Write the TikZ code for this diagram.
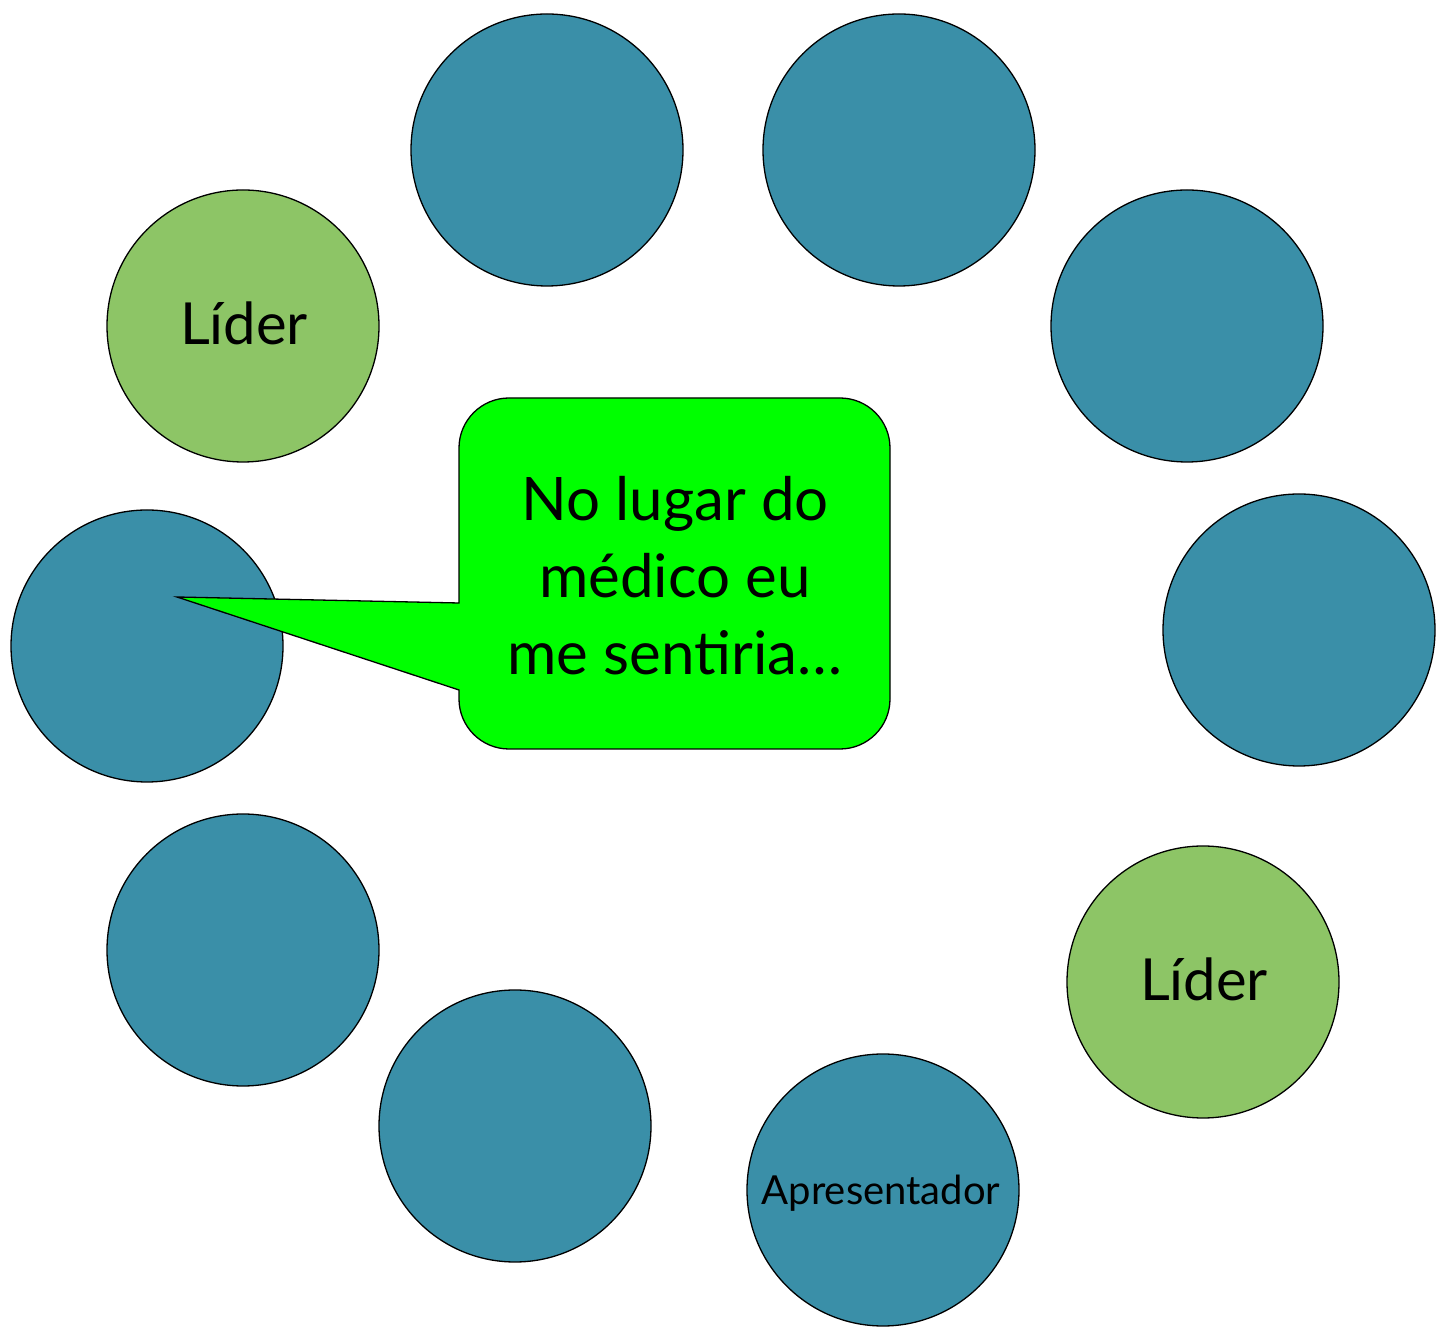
\documentclass[tikz,border=0pt]{standalone}
\usepackage{fontspec}
\setmainfont{Lato}
\definecolor{teal1}{RGB}{58,143,168}
\definecolor{lgreen}{RGB}{141,197,102}
\definecolor{callg}{RGB}{0,255,0}
\begin{document}
\begin{tikzpicture}[x=1pt,y=1pt,
  seat/.style={circle,draw=black,line width=1.3pt,fill=teal1,minimum size=272pt,inner sep=0pt},
  leader/.style={seat,fill=lgreen},
  lbl/.style={font=\fontsize{58}{62}\selectfont,anchor=base}]
\useasboundingbox (0,0) rectangle (1441,1326);
\node[seat] (c1) at (547,1176) {};
\node[seat] (c2) at (899,1176) {};
\node[leader] (c3) at (243,1000) {};
\node[seat] (c4) at (1187,1000) {};
\node[seat] (c5) at (147,680) {};
\node[seat] (c6) at (1299,696) {};
\node[seat] (c7) at (243,376) {};
\node[leader] (c8) at (1203,344) {};
\node[seat] (c9) at (515,200) {};
\node[seat] (c10) at (883,136) {};
\node[lbl] (t3) at (244,981) {Líder};
\node[lbl] (t8) at (1204,325) {Líder};
\node[font=\fontsize{40}{44}\selectfont,anchor=base] (t10) at (881,121) {Apresentador};
\draw[line width=1.3pt,fill=callg,line join=miter]
  (459,723) -- (459,878) arc (180:90:50) -- (840,928) arc (90:0:50)
  -- (890,627) arc (0:-90:50) -- (509,577) arc (-90:-180:50)
  -- (459,636) -- (177,729) -- cycle;
\node[align=center,font=\fontsize{60}{77}\selectfont] (msg) at (675,750)
  {No lugar do\\médico eu\\me sentiria…};
\end{tikzpicture}
\end{document}
